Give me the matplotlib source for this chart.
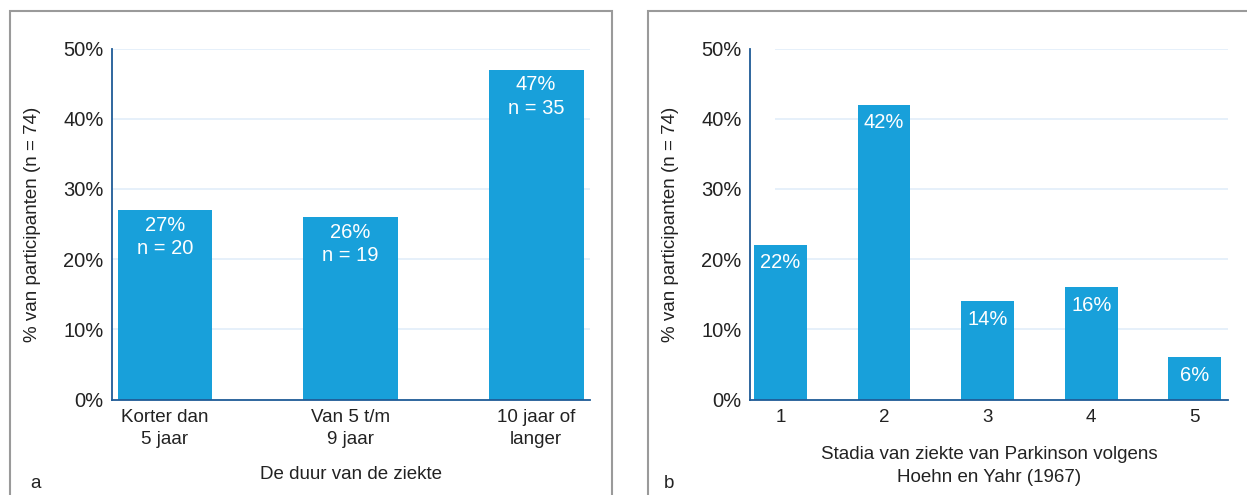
import matplotlib.pyplot as plt
from matplotlib.patches import Rectangle

plt.rcParams['font.family'] = ['Liberation Sans', 'DejaVu Sans']

# panel a
duur_labels = ['Korter dan\n5 jaar', 'Van 5 t/m\n9 jaar', '10 jaar of\nlanger']
duur_pct = [27, 26, 47]
duur_n = [20, 19, 35]

# panel b
stadia_labels = ['1', '2', '3', '4', '5']
stadia_pct = [22, 42, 14, 16, 6]

yticks = [0, 10, 20, 30, 40, 50]
bar_color = '#18a0da'
spine_color = '#1f5b96'
grid_color = '#e2eef9'
txt = '#222222'

fig = plt.figure(figsize=(12.47, 4.95), dpi=100)
W, H = 1247, 495

# grey panel frames (run off the bottom / right edge like the original)
fig.patches.append(Rectangle((10 / W, -0.1), 602 / W, 1.1 - 11 / H, transform=fig.transFigure,
                             fill=False, edgecolor='#9a9a9a', lw=1.5))
fig.patches.append(Rectangle((648 / W, -0.1), 0.5, 1.1 - 11 / H, transform=fig.transFigure,
                             fill=False, edgecolor='#9a9a9a', lw=1.5))

ax1 = fig.add_axes([112 / W, 1 - 399.5 / H, 478 / W, 351 / H])
ax2 = fig.add_axes([750 / W, 1 - 399.5 / H, 478 / W, 351 / H])


def style(ax, xlim, grid_start):
    ax.set_ylim(0, 50)
    ax.set_xlim(*xlim)
    ax.hlines(yticks[1:], grid_start, xlim[1], color=grid_color, lw=1.2, zorder=0)
    for s in ['top', 'right']:
        ax.spines[s].set_visible(False)
    for s in ['left', 'bottom']:
        ax.spines[s].set_color(spine_color)
        ax.spines[s].set_linewidth(1.3)
    ax.set_yticks(yticks)
    ax.set_yticklabels([f'{v}%' for v in yticks], fontsize=14.5, color=txt)
    ax.tick_params(axis='both', length=0, pad=6)
    ax.tick_params(axis='x', labelsize=13.5, colors=txt, pad=7)
    ax.set_ylabel('% van participanten (n = 74)', fontsize=13.5, color=txt, labelpad=16)


x1 = list(range(len(duur_pct)))
ax1.bar(x1, duur_pct, width=0.51, color=bar_color, zorder=2)
style(ax1, (-0.285, 2.29), -0.285)
ax1.set_xticks(x1)
ax1.set_xticklabels(duur_labels, linespacing=1.4)
for xi, p, n in zip(x1, duur_pct, duur_n):
    ax1.annotate(f'{p}%\nn = {n}', (xi, p), xytext=(0, -4), textcoords='offset points',
                 ha='center', va='top', color='white', fontsize=14.5, linespacing=1.3)
ax1.set_xlabel('De duur van de ziekte', fontsize=13.5, color=txt, labelpad=13)

x2 = list(range(1, len(stadia_pct) + 1))
ax2.bar(x2, stadia_pct, width=0.51, color=bar_color, zorder=2)
style(ax2, (0.707, 5.32), 0.95)
ax2.set_xticks(x2)
ax2.set_xticklabels(stadia_labels)
for xi, p in zip(x2, stadia_pct):
    ax2.annotate(f'{p}%', (xi, p), xytext=(0, -6), textcoords='offset points',
                 ha='center', va='top', color='white', fontsize=14.5)
ax2.set_xlabel('Stadia van ziekte van Parkinson volgens\nHoehn en Yahr (1967)',
               fontsize=13.5, color=txt, labelpad=14, linespacing=1.45)

fig.text(30 / W, 1 - 484 / H, 'a', fontsize=13.5, color=txt, va='center')
fig.text(664 / W, 1 - 484 / H, 'b', fontsize=13.5, color=txt, va='center')

fig.savefig('out.png', dpi=100)
